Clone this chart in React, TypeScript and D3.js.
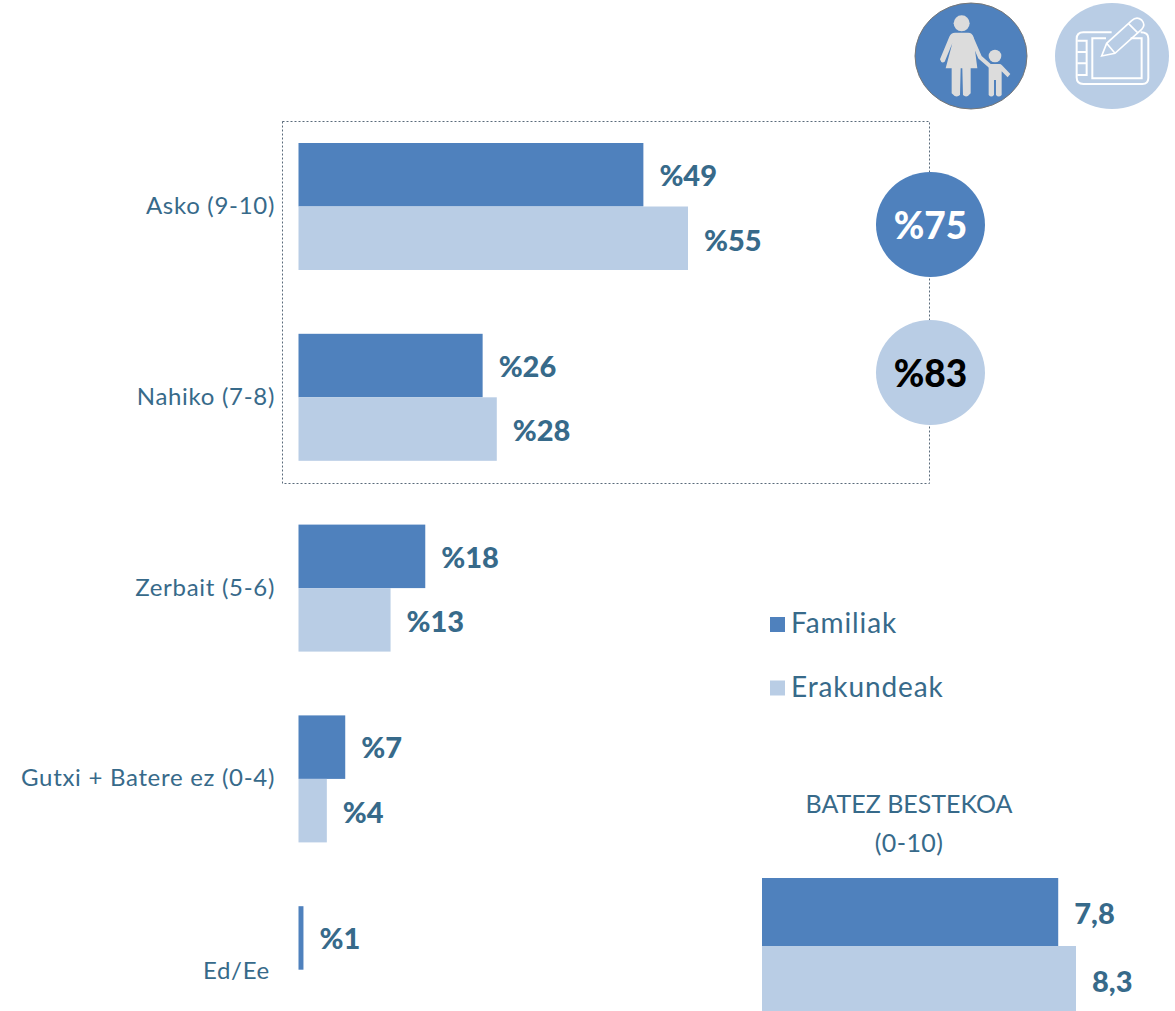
import React from "react";
import * as d3 from "d3";

const categories = ["Asko (9-10)", "Nahiko (7-8)", "Zerbait (5-6)", "Gutxi + Batere ez (0-4)", "Ed/Ee"];
const familiak = [48.7, 26, 17.9, 6.6, 0.7];
const erakundeak = [55, 28, 13, 4, 0];
const familiakLabels = ["%49", "%26", "%18", "%7", "%1"];
const erakundeakLabels = ["%55", "%28", "%13", "%4", ""];
const seriesNames = ["Familiak", "Erakundeak"];
const meanValues = [7.83, 8.3];
const meanLabels = ["7,8", "8,3"];
const totals = ["%75", "%83"];

const BLUE = "#4f81bd";
const LIGHT = "#b9cde5";
const TEXT = "#376a8a";
const FONT = "Lato, 'Open Sans', sans-serif";

const x = d3.scaleLinear().domain([0, 55]).range([298.5, 688]);
const y = d3.scaleBand<string>().domain(categories).range([111, 1065]);
const sub = d3.scaleBand<string>().domain(seriesNames).range([32, 159]);
const mx = d3.scaleLinear().domain([0, 8.3]).range([762, 1076]);
const my = d3.scaleBand<string>().domain(seriesNames).range([878, 1014]);

function ParentIcon() {
  const c = "#dcdcdc";
  return (
    <g>
      <ellipse cx={971} cy={56} rx={56} ry={53} fill={BLUE} stroke="#777" strokeWidth={1} />
      <g transform="translate(900,0) scale(0.3333)">
        <circle cx={185} cy={70} r={24} fill={c} />
        <path fill={c} d="M165 98 L205 98 Q216 98 220 110 L232 205 L212 205 L212 280 Q200 296 189 285 L187 205 L182 205 L180 285 Q168 296 155 280 L155 205 L137 205 L157 130 L134 185 Q124 192 120 178 L148 110 Q153 98 165 98Z" />
        <path fill="none" stroke={c} strokeWidth={12} strokeLinecap="round" d="M214 112 L240 172 L270 198" />
        <circle cx={285} cy={168} r={19} fill={c} />
        <path fill={c} d="M272 192 L298 192 Q303 192 306 196 L331 222 L323 232 L305 214 L305 285 Q296 294 288 285 L288 240 L282 240 L282 285 Q274 294 266 285 L266 200 Q266 192 272 192Z" />
      </g>
    </g>
  );
}

function TabletIcon() {
  return (
    <g>
      <ellipse cx={1112} cy={56} rx={57} ry={53} fill={LIGHT} />
      <g transform="translate(900,0) scale(0.3333)" fill="none" stroke="#fff" strokeWidth={6}>
        <path d="M635 97 L550 97 Q530 97 530 117 L530 232 Q530 252 550 252 L727 252 Q745 252 745 234 L745 115 Q745 97 722 97" />
        <path d="M618 115 L577 115 L577 235 L725 235 L725 115 L692 115" />
        <path d="M532 122 L560 122 L560 225 L532 225 M532 156 L560 156 M532 190 L560 190" />
        <path strokeWidth={5} d="M605 168 L620 130 L695 62 Q710 48 725 60 Q738 75 725 88 L645 160 Z M620 130 L645 160 M685 70 L715 100" />
      </g>
    </g>
  );
}

export default function App() {
  return (
    <svg width={1175} height={1011} style={{ position: "absolute", left: 0, top: 0, background: "#fff" }} fontFamily={FONT}>
      <ParentIcon />
      <TabletIcon />
      <rect x={282.5} y={121.5} width={647} height={362} fill="none" stroke="#5a6b7b" strokeWidth={1} strokeDasharray="2 2" />
      {categories.map((c, i) => {
        const top = y(c)!;
        const labelX = c === "Ed/Ee" ? 270 : 275;
        const labelY = c === "Ed/Ee" ? 979 : top + 103;
        return (
          <g key={c}>
            <text x={labelX} y={labelY} textAnchor="end" fontSize={24} letterSpacing={0.7} fill={TEXT}>{c}</text>
            <rect x={x(0)} y={top + sub("Familiak")!} width={x(familiak[i]) - x(0)} height={sub.bandwidth()} fill={BLUE} />
            <text x={x(familiak[i]) + 16} y={top + sub("Familiak")! + 43} fontSize={29} fontWeight={900} fill={TEXT}>{familiakLabels[i]}</text>
            {erakundeak[i] > 0 && (
              <>
                <rect x={x(0)} y={top + sub("Erakundeak")!} width={x(erakundeak[i]) - x(0)} height={sub.bandwidth()} fill={LIGHT} />
                <text x={x(erakundeak[i]) + 16} y={top + sub("Erakundeak")! + 44} fontSize={29} fontWeight={900} fill={TEXT}>{erakundeakLabels[i]}</text>
              </>
            )}
          </g>
        );
      })}
      <ellipse cx={930.5} cy={224.5} rx={54.5} ry={52.5} fill={BLUE} />
      <text x={930.5} y={239} textAnchor="middle" fontSize={37} fontWeight={900} fill="#fff">{totals[0]}</text>
      <ellipse cx={930.5} cy={372.5} rx={54.5} ry={52.5} fill={LIGHT} />
      <text x={930.5} y={387} textAnchor="middle" fontSize={37} fontWeight={900} fill="#000">{totals[1]}</text>

      {seriesNames.map((s, i) => (
        <g key={s}>
          <rect x={770} y={617 + i * 63.5} width={15} height={15} fill={i === 0 ? BLUE : LIGHT} />
          <text x={791} y={633 + i * 64} fontSize={28} letterSpacing={0.9} fill={TEXT}>{s}</text>
        </g>
      ))}

      <text x={909} y={813} textAnchor="middle" fontSize={25} fill={TEXT}>BATEZ BESTEKOA</text>
      <text x={909} y={852} textAnchor="middle" fontSize={25} letterSpacing={0.4} fill={TEXT}>(0-10)</text>
      {seriesNames.map((s, i) => (
        <g key={s}>
          <rect x={mx(0)} y={my(s)!} width={mx(meanValues[i]) - mx(0)} height={my.bandwidth()} fill={i === 0 ? BLUE : LIGHT} />
          <text x={mx(meanValues[i]) + 16} y={my(s)! + 46} fontSize={29} fontWeight={900} fill={TEXT}>{meanLabels[i]}</text>
        </g>
      ))}
    </svg>
  );
}
